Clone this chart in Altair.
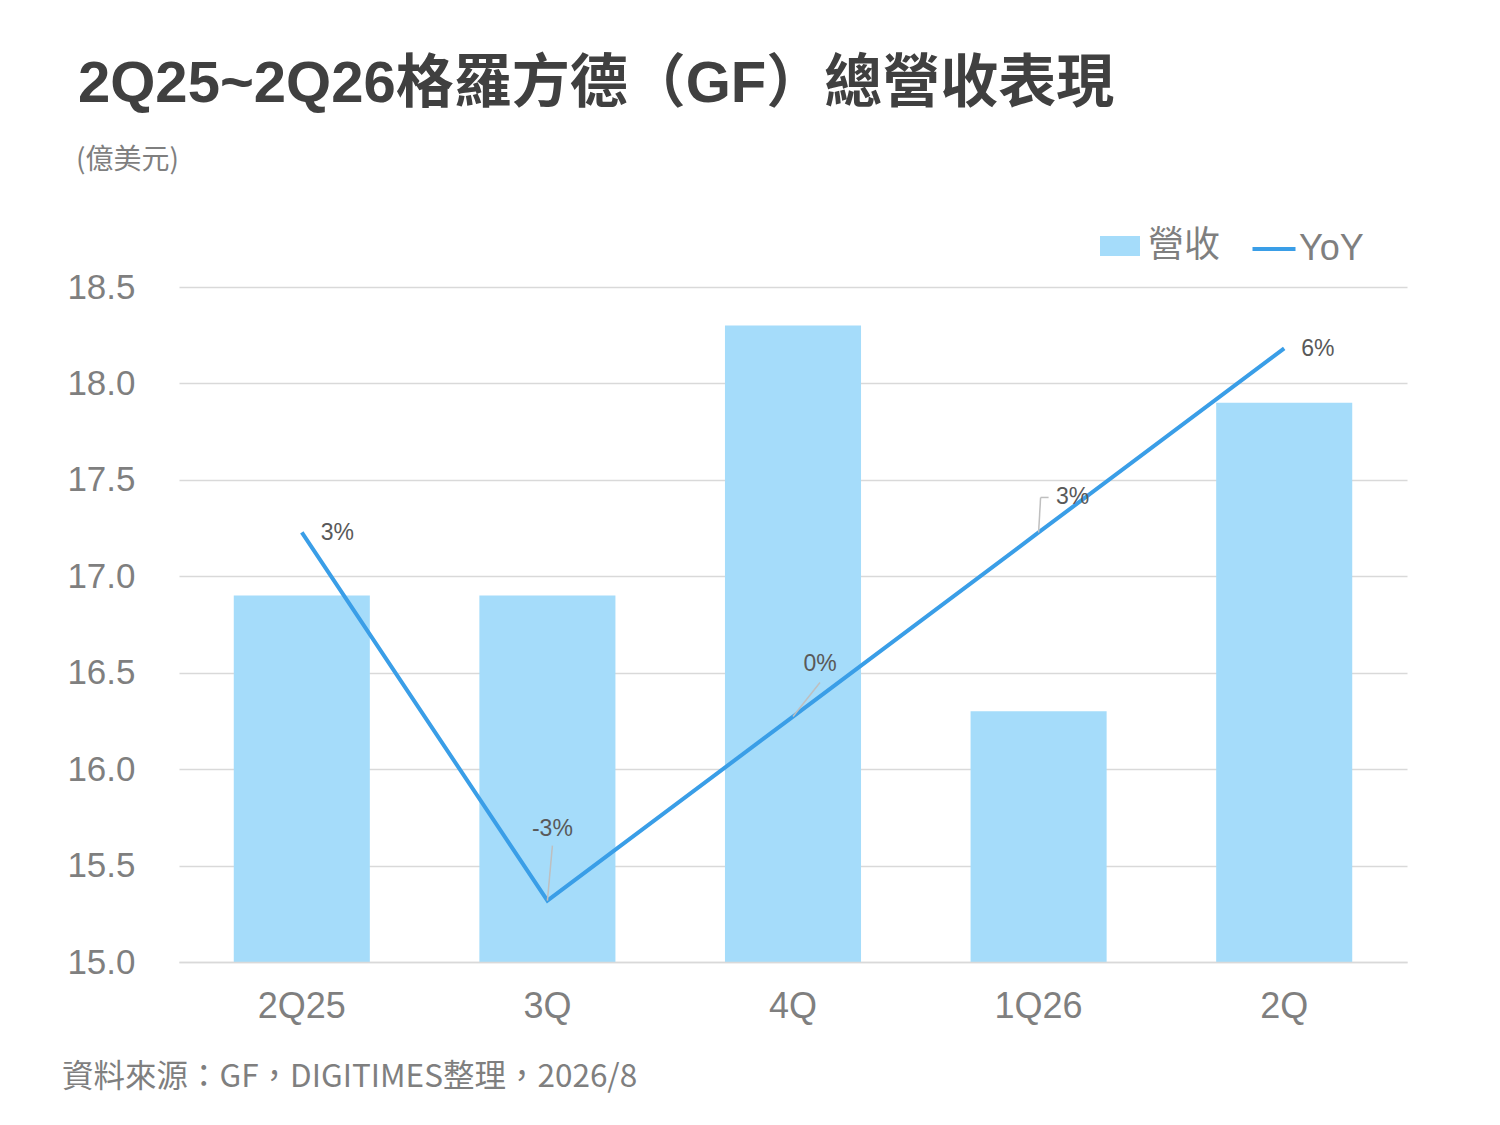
import altair as alt
import pandas as pd

quarters = ["2Q25", "3Q", "4Q", "1Q26", "2Q"]
revenue = [16.9, 16.9, 18.3, 16.3, 17.9]
yoy = [3, -3, 0, 3, 6]
yoy_labels = ["3%", "-3%", "0%", "3%", "6%"]

title_text = "2Q25~2Q26格羅方德（GF）總營收表現"
unit_text = "(億美元)"
source_text = "資料來源：GF，DIGITIMES整理，2026/8"

df = pd.DataFrame({"q": quarters, "rev": revenue, "yoy": yoy, "lab": yoy_labels,
                   "s1": ["營收"] * 5, "s2": ["YoY"] * 5})

LAT = "Liberation Sans, Arial, Noto Sans CJK TC"
CJK = "Noto Sans CJK TC, Liberation Sans"
GRAY = "#7f7f7f"
BAR = "#a5dcfa"
LINE = "#3a9ee7"

x_enc = alt.X("q:N", sort=quarters, title=None,
              scale=alt.Scale(paddingInner=0.446, paddingOuter=0.223),
              axis=alt.Axis(labelAngle=0, labelFontSize=36, labelColor=GRAY, labelFont=LAT,
                            labelPadding=27, ticks=False, domainColor="#d9d9d9", domainWidth=1.5,
                            grid=False, zindex=1))

base = alt.Chart(df)

bars = base.mark_bar(color=BAR, clip=True).encode(
    x=x_enc,
    y=alt.Y("rev:Q", title=None, scale=alt.Scale(domain=[15, 18.5], nice=False, zero=False),
            axis=alt.Axis(values=[15, 15.5, 16, 16.5, 17, 17.5, 18, 18.5], format=".1f",
                          labelFontSize=35, labelColor=GRAY, labelFont=LAT, labelPadding=44,
                          ticks=False, domain=False, gridColor="#d9d9d9", gridWidth=1.5)),
    color=alt.Color("s1:N", scale=alt.Scale(range=[BAR]),
                    legend=alt.Legend(orient="none", legendX=921, legendY=-61, title=None,
                                      symbolType="M-1,-0.5L1,-0.5L1,0.5L-1,0.5Z", symbolSize=1600,
                                      symbolStrokeWidth=0, labelFontSize=36, labelColor=GRAY,
                                      labelFont=CJK, labelOffset=8, padding=0)),
)

y2 = alt.Y("yoy:Q", scale=alt.Scale(domain=[-4, 7], nice=False, zero=False), axis=None)

line = base.mark_line(strokeWidth=4).encode(
    x=alt.X("q:N", sort=quarters),
    y=y2,
    stroke=alt.Stroke("s2:N", scale=alt.Scale(range=[LINE]),
                      legend=alt.Legend(orient="none", legendX=1071, legendY=-62, title=None,
                                        symbolType="stroke", symbolSize=1850, symbolStrokeWidth=4,
                                        labelFontSize=36, labelColor=GRAY, labelFont=LAT,
                                        labelOffset=1, padding=0)),
)

# label offsets (style)
offsets = {
    "2Q25": dict(dx=19, dy=1, align="left"),
    "3Q": dict(dx=5, dy=-72, align="center"),
    "4Q": dict(dx=27, dy=-53, align="center"),
    "1Q26": dict(dx=34, dy=-35, align="center"),
    "2Q": dict(dx=17, dy=1, align="left"),
}
label_layers = []
for q, o in offsets.items():
    label_layers.append(
        base.transform_filter(alt.datum.q == q).mark_text(
            fontSize=23, color="#595959", font=LAT, baseline="middle", **o
        ).encode(x=alt.X("q:N", sort=quarters), y=y2, text="lab:N")
    )

leaders_spec = {
    "3Q": [dict(x2Offset=5, y2Offset=-55)],
    "4Q": [dict(x2Offset=27, y2Offset=-34)],
    "1Q26": [dict(x2Offset=2, y2Offset=-35), dict(xOffset=2, yOffset=-35, x2Offset=10, y2Offset=-35)],
}
leader_layers = []
for q, segs in leaders_spec.items():
    for sg in segs:
        leader_layers.append(
            base.transform_filter(alt.datum.q == q).mark_rule(
                color="#bfbfbf", strokeWidth=1.5, **sg
            ).encode(x=alt.X("q:N", sort=quarters), x2=alt.X2("q:N"), y=y2, y2=alt.Y2("yoy:Q"))
        )

yoy_layer = alt.layer(line, *leader_layers, *label_layers)

def text_layer(txt, x, y, size, color, font, weight="normal"):
    return alt.Chart(pd.DataFrame({"t": [txt]})).mark_text(
        fontSize=size, color=color, font=font, fontWeight=weight, align="left", baseline="middle"
    ).encode(x=alt.value(x), y=alt.value(y), text="t:N")

texts = alt.layer(
    text_layer(title_text, -101, -202, 58, "#404040", LAT, "bold"),
    text_layer(unit_text, -103, -126, 28, GRAY, CJK),
    text_layer(source_text, -117, 791, 31.5, GRAY, CJK),
)

chart = alt.layer(bars, yoy_layer, texts).resolve_scale(
    y="independent", color="independent", stroke="independent"
).properties(
    width=1228, height=675,
    padding={"left": 171, "top": 279, "right": 80, "bottom": 140},
    autosize=alt.AutoSizeParams(type="none"),
    background="white",
).configure_view(strokeWidth=0, stroke="transparent")

chart.save("out.html", embed_options={"renderer": "svg", "actions": False})
